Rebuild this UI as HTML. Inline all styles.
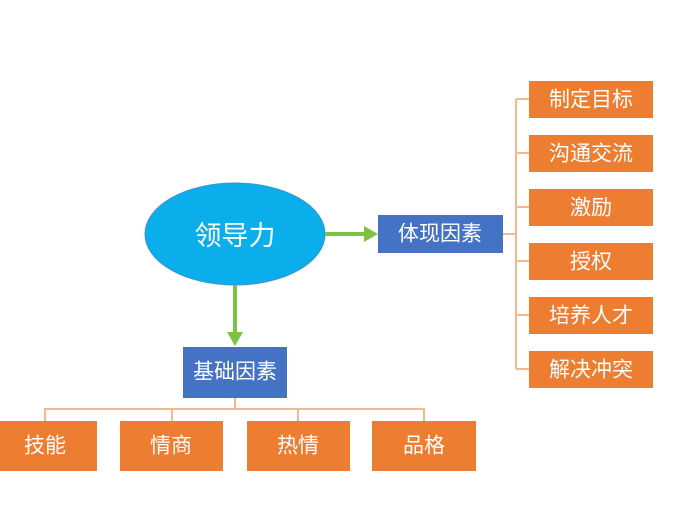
<!DOCTYPE html>
<html><head><meta charset="utf-8"><style>
html,body{margin:0;padding:0;background:#fff;}
svg text{font-family:"Liberation Sans","Noto Sans CJK SC",sans-serif;fill:#fff;text-anchor:middle;dominant-baseline:central;}
</style></head><body>
<svg width="697" height="513" viewBox="0 0 697 513" xmlns="http://www.w3.org/2000/svg">
<g stroke="#f5b88e" stroke-width="2" fill="none">
<path d="M503 234 H516 M516 99 V369 M516 99 H529 M516 153 H529 M516 207 H529 M516 261 H529 M516 315 H529 M516 369 H529"/>
<path d="M235 398 V409 M45 421 V409 H424 V421 M172 409 V421 M298 409 V421"/>
</g>
<ellipse cx="235" cy="234" rx="90" ry="51" fill="#0aaeea" stroke="#3d8fd0" stroke-width="1"/>
<text x="235" y="236" font-size="27">领导力</text>
<g stroke="#7dc242" stroke-width="4"><line x1="325" y1="234" x2="366" y2="234"/><line x1="235" y1="285" x2="235" y2="334"/></g>
<polygon points="364,226 378,234 364,242" fill="#7dc242"/>
<polygon points="227,332 235,346 243,332" fill="#7dc242"/>
<rect x="378" y="215" width="125" height="38" fill="#4472c4"/>
<text x="440" y="234" font-size="21">体现因素</text>
<rect x="183" y="347" width="104" height="51" fill="#4472c4"/>
<text x="235" y="372" font-size="21">基础因素</text>
<g fill="#ed7d31">
<rect x="529" y="81" width="124" height="37"/><rect x="529" y="135" width="124" height="37"/>
<rect x="529" y="189" width="124" height="37"/><rect x="529" y="243" width="124" height="37"/>
<rect x="529" y="297" width="124" height="37"/><rect x="529" y="351" width="124" height="37"/>
<rect x="0" y="421" width="97" height="50"/><rect x="120" y="421" width="103" height="50"/>
<rect x="247" y="421" width="103" height="50"/><rect x="372" y="421" width="104" height="50"/>
</g>
<g font-size="21">
<text x="591" y="100">制定目标</text><text x="591" y="154">沟通交流</text>
<text x="591" y="208">激励</text><text x="591" y="262">授权</text>
<text x="591" y="316">培养人才</text><text x="591" y="370">解决冲突</text>
<text x="45" y="446">技能</text><text x="171" y="446">情商</text>
<text x="298" y="446">热情</text><text x="424" y="446">品格</text>
</g>
</svg>
</body></html>
